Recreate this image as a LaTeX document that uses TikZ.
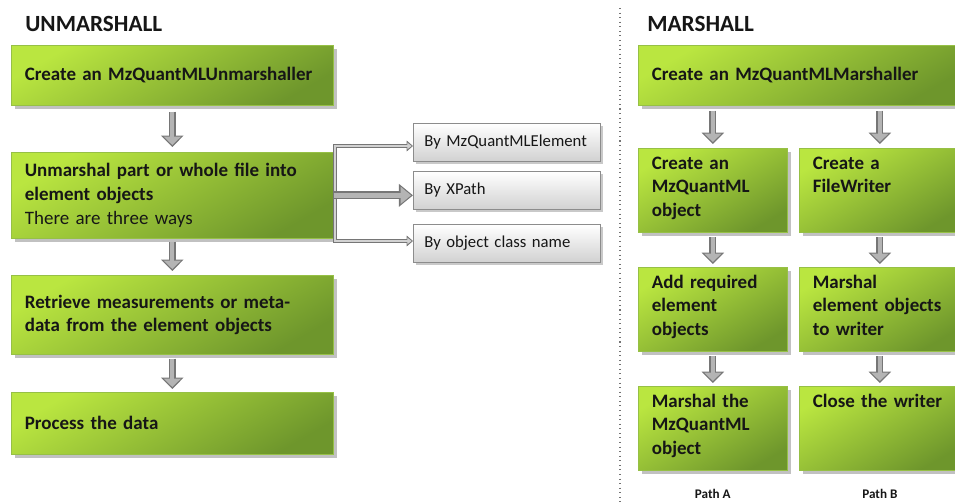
\documentclass[tikz,border=0pt]{standalone}
\usepackage{fontspec}
\setmainfont{Carlito}
\usetikzlibrary{calc, positioning, shadows, arrows.meta}
\definecolor{gtop}{RGB}{186,230,64}
\definecolor{gbot}{RGB}{110,150,44}
\definecolor{gedge}{RGB}{150,192,70}
\definecolor{arrline}{RGB}{118,118,118}
\definecolor{arrfill}{RGB}{180,180,180}
\definecolor{ink}{RGB}{22,22,22}
% grey block arrow: dark outline, lighter core
\newcommand{\flowarrow}[2]{%
  \draw[line width=4pt, arrline, -{Triangle[width=12.5pt,length=6.5pt]}] (#1) -- (#2);
  \draw[line width=2.4pt, arrfill, shorten >=1.1pt, -{Triangle[width=9.5pt,length=4.8pt]}] (#1) -- (#2);
}

\begin{document}
\begin{tikzpicture}[x=0.02cm, y=-0.02cm, font=\fontsize{10.8}{13.4}\selectfont\bfseries,
  gbox/.style={draw=gedge, line width=0.4pt, top color=gtop, bottom color=gbot, shading angle=30,
    drop shadow={shadow xshift=2pt, shadow yshift=-2pt, opacity=0.35, fill=black!70},
    text=ink, align=left, inner xsep=0.27cm, anchor=north west},
  ubox/.style={gbox, text width=5.9cm},
  mbox/.style={gbox, inner ysep=4pt, text height=8pt, text depth=32pt},
  sbox/.style={draw=black!45, line width=0.4pt, top color=white, bottom color=black!18,
    drop shadow={shadow xshift=1.5pt, shadow yshift=-1.5pt, opacity=0.3, fill=black!70},
    text=ink, align=left, inner xsep=0.22cm, text width=3.3cm, minimum height=0.76cm,
    anchor=north west, font=\fontsize{9.5}{11}\selectfont\mdseries},
  title/.style={anchor=west, inner sep=0pt, text=ink, font=\fontsize{13.2}{15}\selectfont\bfseries},
  pathlbl/.style={inner sep=0pt, text=ink, font=\fontsize{7.5}{9}\selectfont\bfseries}]

  \useasboundingbox (0,0) rectangle (955,502);
  \clip (0,0) rectangle (955,502);

  % ---------- unmarshall side ----------
  \node[title] (tu) at (25,24) {UNMARSHALL};
  \node[ubox, minimum height=1.2cm]  (u1) at (11,45)  {Create an MzQuantMLUnmarshaller};
  \node[ubox, minimum height=1.72cm] (u2) at (11,152) {Unmarshal part or whole file into\\element objects\\{\mdseries There are three ways}};
  \node[ubox, minimum height=1.58cm] (u3) at (11,275) {Retrieve measurements or meta-\\data from the element objects};
  \node[ubox, minimum height=1.24cm] (u4) at (11,392) {Process the data};

  \flowarrow{$(u1.south)+(0,6)$}{$(u2.north)+(0,-5)$}
  \flowarrow{$(u2.south)+(0,3)$}{$(u3.north)+(0,-4)$}
  \flowarrow{$(u3.south)+(0,4)$}{$(u4.north)+(0,-3)$}

  % ---------- the three ways ----------
  \node[sbox] (sa) at (413,123) {By MzQuantMLElement};
  \node[sbox] (sb) at (413,171) {By XPath};
  \node[sbox] (sc) at (413,224) {By object class name};

  \coordinate (bt) at (335,146);
  \coordinate (bb) at (335,241);
  \draw[line width=2pt, arrline, {Triangle[width=6pt,length=3.6pt]}-{Triangle[width=6pt,length=3.6pt]}]
    (sa.west |- bt) -- (bt) -- (bb) -- (sc.west |- bb);
  \draw[line width=0.8pt, arrfill!60!white, shorten <=0.8pt, shorten >=0.8pt,
    {Triangle[width=3.6pt,length=2.4pt]}-{Triangle[width=3.6pt,length=2.4pt]}]
    (sa.west |- bt) -- (bt) -- (bb) -- (sc.west |- bb);
  \draw[line width=4.6pt, arrline, -{Triangle[width=12.5pt,length=8pt]}] (u2.east) -- (sb.west |- u2.east);
  \draw[line width=3pt, arrfill, shorten >=1.1pt, -{Triangle[width=9.5pt,length=6pt]}] (u2.east) -- (sb.west |- u2.east);

  % ---------- separator ----------
  \draw[black!55, line width=0.6pt, dotted] (620,8) -- (620,502);

  % ---------- marshall side ----------
  \node[title] (tm) at (647,24) {MARSHALL};
  \node[gbox, text width=5.9cm, minimum height=1.2cm] (m1) at (638,45) {Create an MzQuantMLMarshaller};

  \node[mbox, text width=2.44cm] (m2a) at (638,148) {Create an\\MzQuantML\\object};
  \node[mbox, text width=2.68cm] (m2b) at (799,148) {Create a\\FileWriter};
  \node[mbox, text width=2.44cm] (m3a) at (638,267) {Add required\\element\\objects};
  \node[mbox, text width=2.68cm] (m3b) at (799,267) {Marshal\\element objects\\to writer};
  \node[mbox, text width=2.44cm] (m4a) at (638,386) {Marshal the\\MzQuantML\\object};
  \node[mbox, text width=2.68cm] (m4b) at (799,386) {Close the writer};

  \flowarrow{$(m2a.north |- m1.south)+(0,5)$}{$(m2a.north)+(0,-4)$}
  \flowarrow{$(m2b.north |- m1.south)+(0,5)$}{$(m2b.north)+(0,-4)$}
  \flowarrow{$(m2a.south)+(0,4)$}{$(m3a.north)+(0,-3)$}
  \flowarrow{$(m2b.south)+(0,4)$}{$(m3b.north)+(0,-3)$}
  \flowarrow{$(m3a.south)+(0,4)$}{$(m4a.north)+(0,-3)$}
  \flowarrow{$(m3b.south)+(0,4)$}{$(m4b.north)+(0,-3)$}

  \node[pathlbl, below=0.36cm of m4a] (pa) {Path A};
  \node[pathlbl, below=0.36cm of m4b] (pb) {Path B};

\end{tikzpicture}
\end{document}
